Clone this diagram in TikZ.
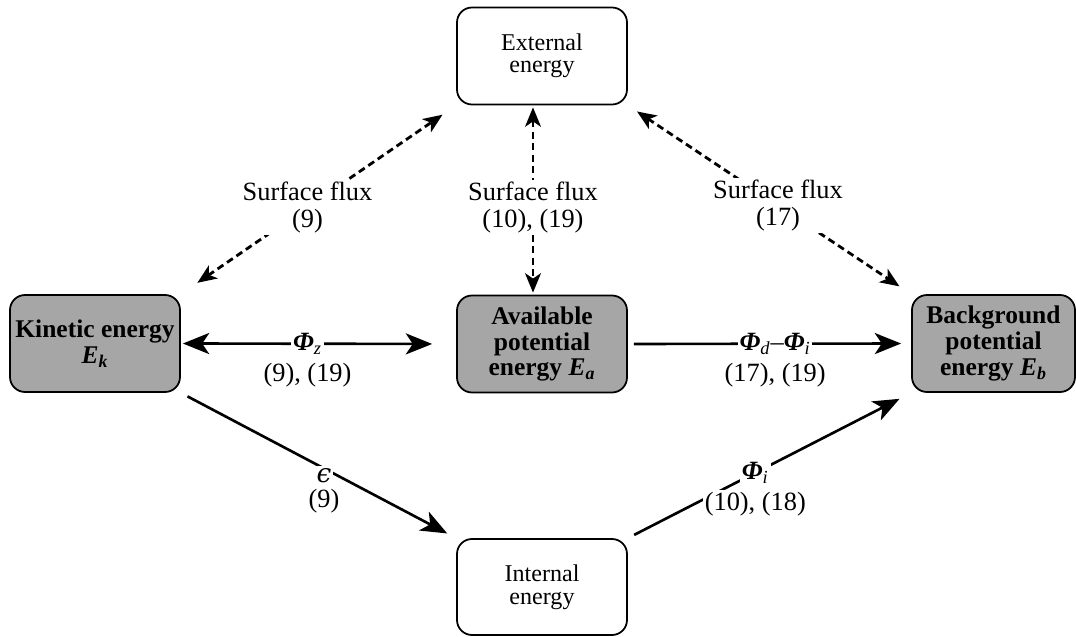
\documentclass[tikz,border=0pt]{standalone}
\usepackage{amsfonts, amsmath, amssymb}
\usepackage{fontspec}
\setmainfont{Liberation Serif}
\newfontfamily\greekserif{DejaVu Serif}
\usepackage{tikz}
\usetikzlibrary{shapes,arrows,arrows.meta,positioning,calc}

\newcommand{\fluxsym}[1]{\textbf{\textit{Φ}}\textsubscript{\textit{#1}}}
\newcommand{\energysym}[1]{\textit{E}\textsubscript{\textit{#1}}}

\begin{document}
\begin{tikzpicture}[scale=1,
  box/.style={draw, line width=1pt, rounded corners=0.3cm, minimum width=3.4cm, minimum height=1.94cm, align=center, inner sep=0pt, font=\fontsize{13.7}{12.8}\selectfont},
  shadebox/.style={box, fill=black!35, font=\fontsize{14.5}{14.7}\selectfont\bfseries},
  flow/.style={line width=1.5pt, -{Stealth[length=15pt,width=12pt,inset=4pt]}},
  twoway/.style={line width=1.5pt, {Stealth[length=15pt,width=12pt,inset=4pt]}-{Stealth[length=15pt,width=12pt,inset=4pt]}},
  flux/.style={line width=1.6pt, dash pattern=on 4pt off 2.5pt, {Stealth[length=11pt,width=9pt,inset=3pt]}-{Stealth[length=11pt,width=9pt,inset=3pt]}},
  tag/.style={fill=white, inner sep=1pt, align=center, font=\fontsize{15}{15.5}\selectfont},
  ref/.style={inner sep=1pt, font=\fontsize{15}{15.5}\selectfont}]
\useasboundingbox (0,0) rectangle (21.52,12.72);
% the five energy reservoirs
\node[box] (ext) at (10.84,11.6) {External\\energy};
\node[shadebox] (avail) at (10.84,5.84) {Available\\potential\\energy \energysym{a}};
\node[box, minimum height=1.92cm] (intern) at (10.84,0.98) {Internal\\energy};
\node[shadebox] (kin) at (1.9,5.85) {Kinetic energy\\\energysym{k}};
\node[shadebox, minimum width=3.26cm] (bgd) at (19.87,5.85) {Background\\potential\\energy \energysym{b}};
% conversions
\draw[twoway, shorten <=0.04cm, shorten >=0.48cm] (kin.east) -- node[tag, pos=.46] (phiz) {\fluxsym{z}} (avail.west);
\node[ref, below=2pt of phiz] (phizref) {(9), (19)};
\draw[flow, shorten <=0.12cm, shorten >=0.2cm] (avail.east) -- node[tag, pos=.52] (phidi) {\fluxsym{d}–\fluxsym{i}} (bgd.west);
\node[ref, below=2pt of phidi] (phidiref) {(17), (19)};
\draw[flow, shorten <=0.15cm, shorten >=0.2cm] (kin.south east) -- node[tag, pos=.52, yshift=-4pt] (eps) {{\greekserif\itshape ϵ}} (intern.north west);
\node[ref, below=1pt of eps] (epsref) {(9)};
\draw[flow, shorten <=0.14cm, shorten >=0.26cm] (intern.north east) -- node[tag, pos=.45] (phii) {\fluxsym{i}} (bgd.south west);
\node[ref, fill=white, below=2pt of phii] (phiiref) {(10), (18)};
% surface fluxes
\draw[flux, shorten <=0.4cm, shorten >=0.33cm] (kin.north east) -- node[tag, pos=.46] (sfk) {Surface flux\\(9)} (ext.south west);
\draw[flux, shorten <=0.04cm, shorten >=0.04cm] ([xshift=-0.18cm]ext.south) -- node[tag, pos=.54] (sfa) {Surface flux\\(10), (19)} ([xshift=-0.18cm]avail.north);
\draw[flux, shorten <=0.22cm, shorten >=0.28cm] (ext.south east) -- node[tag, pos=.53] (sfb) {Surface flux\\(17)} (bgd.north west);
\end{tikzpicture}
\end{document}
